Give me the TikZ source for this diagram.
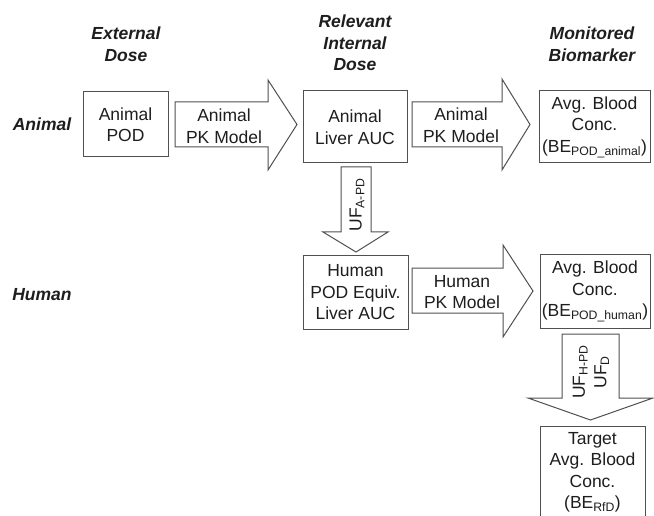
\documentclass[tikz,border=0pt]{standalone}
\usepackage{fontspec}
\setmainfont{Liberation Sans}
\definecolor{linec}{HTML}{505050}
\definecolor{txt}{HTML}{1E1E1E}
\newcommand{\fsz}{\fontsize{17.5}{21.5}\selectfont}
\begin{document}
\begin{tikzpicture}[x=1pt,y=-1pt,
  box/.style={draw=linec, line width=1pt, fill=white, inner sep=0pt, align=center, font=\fsz, text=txt},
  blk/.style={draw=linec, line width=1pt, fill=white, line join=miter},
  lbl/.style={align=center, font=\fsz, text=txt, inner sep=0pt},
  hdr/.style={align=center, font=\fsz\bfseries\itshape, text=txt, inner sep=0pt}]
\useasboundingbox (0,0) rectangle (654,516);
\clip (0,0) rectangle (654,516);
\fill[white] (0,0) rectangle (654,516);

% headers
\node[hdr] (hext) at (126,44) {External\\Dose};
\node[hdr] (hrel) at (355,43) {Relevant\\Internal\\Dose};
\node[hdr] (hmon) at (592,44) {Monitored\\Biomarker};
\node[hdr] (hani) at (42,124) {Animal};
\node[hdr] (hhum) at (42,295) {Human};

% boxes
\node[box, minimum width=85pt, minimum height=65pt] (pod) at (125.5,124.5) {Animal\\POD};
\node[box, minimum width=104pt, minimum height=72pt] (liver) at (355,127) {Animal\\Liver AUC};
\node[box, minimum width=111pt, minimum height=72pt] (avga) at (594.5,127) {Avg. Blood\\Conc.\\(BE\textsubscript{POD\_animal})};
\node[box, minimum width=105pt, minimum height=73pt] (hpod) at (355.5,292.5) {Human\\POD Equiv.\\Liver AUC};
\node[box, minimum width=110pt, minimum height=73pt] (avgh) at (595,291.5) {Avg. Blood\\Conc.\\(BE\textsubscript{POD\_human})};
\node[box, minimum width=105pt, minimum height=92pt, anchor=north] (target) at (592.5,426) {Target\\Avg. Blood\\Conc.\\(BE\textsubscript{RfD})};

% block arrows
\draw[blk] (175,102) -- (268,102) -- (268,80) -- (297,124.5) -- (268,170) -- (268,147) -- (175,147) -- cycle;
\node[lbl] (a1) at (224,126) {Animal\\PK Model};

\draw[blk] (412,102) -- (502,102) -- (502,79) -- (530,124.5) -- (502,170) -- (502,147) -- (412,147) -- cycle;
\node[lbl] (a2) at (461,125) {Animal\\PK Model};

\draw[blk] (412,268) -- (503,268) -- (503,245) -- (533,291) -- (503,337) -- (503,313) -- (412,313) -- cycle;
\node[lbl] (a3) at (462,292) {Human\\PK Model};

\draw[blk] (341,167) -- (371,167) -- (371,232) -- (388,232) -- (356,252) -- (323,232) -- (341,232) -- cycle;
\node[lbl, rotate=90] (d1) at (357,205) {UF\textsubscript{A-PD}};

\draw[blk] (562,334) -- (619,334) -- (619,398) -- (653,398) -- (590.5,420) -- (528,398) -- (562,398) -- cycle;
\node[lbl, rotate=90] (d2) at (591,372) {UF\textsubscript{H-PD}\\UF\textsubscript{D}};
\end{tikzpicture}
\end{document}
